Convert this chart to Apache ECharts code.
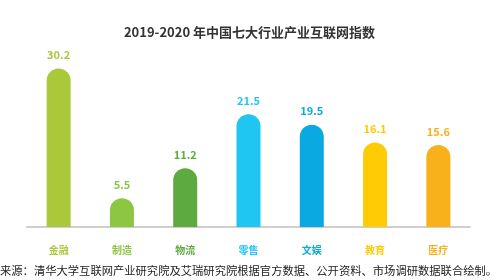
<!DOCTYPE html>
<html>
<head>
<meta charset="utf-8">
<script src="https://cdn.jsdelivr.net/npm/echarts@6/dist/echarts.min.js"></script>
<style>
  html, body { margin: 0; padding: 0; background: #fff; }
  #main { width: 499px; height: 280px; }
</style>
</head>
<body>
<div id="main"></div>
<script>
// 行业与指数
var industries = ['金融', '制造', '物流', '零售', '文娱', '教育', '医疗'];
var indexValues = [30.2, 5.5, 11.2, 21.5, 19.5, 16.1, 15.6];
var barColors = ['#a9c93a', '#8dc640', '#5dab3f', '#1fc6f1', '#0aa9e1', '#fecb04', '#f8b11b'];

var chart = echarts.init(document.getElementById('main'));

var font = '"Noto Sans CJK SC", "Noto Sans", sans-serif';

var option = {
    backgroundColor: '#fff',
    title: {
        text: '2019-2020 年中国七大行业产业互联网指数',
        left: 'center',
        top: 21,
        textStyle: { fontFamily: font, fontSize: 13, fontWeight: 'bold', color: '#333' }
    },
    grid: { left: 27, right: 29, top: 59, bottom: 53 },
    xAxis: {
        type: 'category',
        data: industries,
        axisTick: { show: false },
        axisLine: { lineStyle: { color: '#cfcfcf', width: 2 } },
        axisLabel: {
            margin: 18,
            fontFamily: font,
            fontSize: 10,
            fontWeight: 'bold',
            color: function (v, i) { return barColors[i]; }
        }
    },
    yAxis: {
        type: 'value',
        min: 0,
        max: 32,
        show: false,
        splitLine: { show: false }
    },
    series: [{
        type: 'bar',
        barWidth: 24,
        data: indexValues.map(function (v, i) {
            return {
                value: v,
                itemStyle: { color: barColors[i] },
                label: { color: barColors[i] }
            };
        }),
        itemStyle: { borderRadius: [12, 12, 0, 0] },
        label: {
            show: true,
            position: 'top',
            distance: 8,
            fontFamily: font,
            fontSize: 11,
            fontWeight: 'bold'
        }
    }],
    graphic: [{
        type: 'text',
        left: 0,
        top: 265,
        style: {
            text: '来源：清华大学互联网产业研究院及艾瑞研究院根据官方数据、公开资料、市场调研数据联合绘制。',
            fontFamily: font,
            fontSize: 11.3,
            fill: '#222'
        }
    }]
};

chart.setOption(option);
</script>
</body>
</html>
